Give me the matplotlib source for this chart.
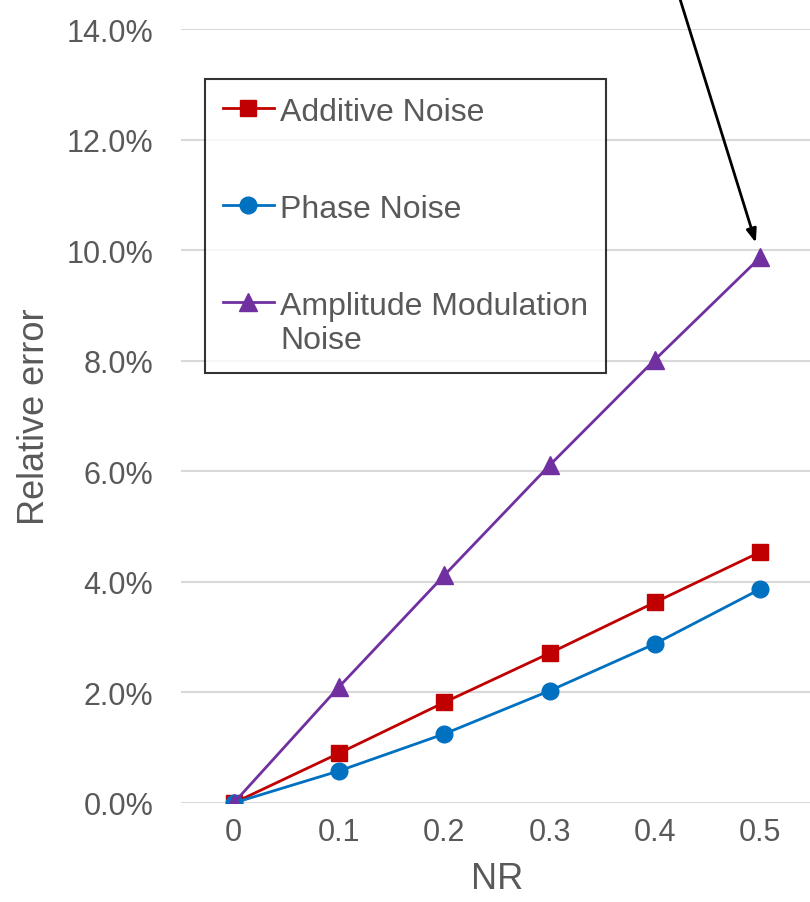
import matplotlib
matplotlib.use("Agg")
import matplotlib.pyplot as plt
from matplotlib.ticker import PercentFormatter

plt.rcParams['font.family'] = ['Liberation Sans', 'DejaVu Sans']

# Noise ratio categories and relative error (%) for each noise type
nr_labels = ["0", "0.1", "0.2", "0.3", "0.4", "0.5"]
additive = [0.0, 0.90, 1.82, 2.71, 3.63, 4.54]
phase = [0.0, 0.58, 1.25, 2.03, 2.88, 3.87]
amplitude = [0.0, 2.10, 4.12, 6.11, 8.02, 9.87]

TEXT = "#595959"
W, H = 810, 903
fig = plt.figure(figsize=(W / 100, H / 100), dpi=100)
ax = fig.add_axes([181 / W, (H - 804) / H, 632 / W, 774 / H])

x = list(range(len(nr_labels)))
ax.plot(x, additive, color="#C00000", lw=2, marker="s", ms=12,
        label="Additive Noise", zorder=3)
ax.plot(x, phase, color="#0070C0", lw=2, marker="o", ms=12,
        label="Phase Noise", zorder=3)
ax.plot(x, amplitude, color="#7030A0", lw=2, marker="^", ms=12.5,
        label="Amplitude Modulation\nNoise", zorder=3)

ax.set_xlim(-0.5, len(nr_labels) - 0.5)
ax.set_ylim(0, 14)
ax.set_yticks([0, 2, 4, 6, 8, 10, 12, 14])
ax.yaxis.set_major_formatter(PercentFormatter(xmax=100, decimals=1))
ax.set_xticks(x)
ax.set_xticklabels(nr_labels)
ax.grid(axis="y", color="#D9D9D9", lw=1.5)
ax.set_axisbelow(True)
for s in ax.spines.values():
    s.set_visible(False)
ax.tick_params(axis="both", length=0, labelsize=22, colors=TEXT)
ax.tick_params(axis="y", pad=20)
ax.tick_params(axis="x", pad=10)
ax.set_xlabel("NR", fontsize=26, color=TEXT, labelpad=10)
ax.set_ylabel("Relative error", fontsize=26, color=TEXT, labelpad=10)

leg = ax.legend(loc="upper left", bbox_to_anchor=(205 / W, 1 - 80 / H),
                bbox_transform=fig.transFigure, fontsize=23, frameon=True,
                fancybox=False, edgecolor="black", labelspacing=2.1,
                handlelength=1.6, handletextpad=0.2, borderpad=0.55,
                borderaxespad=0)
leg.get_frame().set_linewidth(1.5)
for t in leg.get_texts():
    t.set_color(TEXT)
# keep the marker of the two-line entry level with its first line
for column in leg._legend_handle_box.get_children():
    column.get_children()[-1].align = "top"

# Arrow pointing at the highest amplitude-modulation error
ax.annotate("", xy=(x[-1], amplitude[-1]), xycoords="data",
            xytext=(680 / W, 1.0), textcoords="figure fraction",
            arrowprops=dict(arrowstyle="-|>,head_length=0.8,head_width=0.3",
                            color="black", lw=2, shrinkA=0, shrinkB=11))

fig.savefig("out.png", dpi=100)
